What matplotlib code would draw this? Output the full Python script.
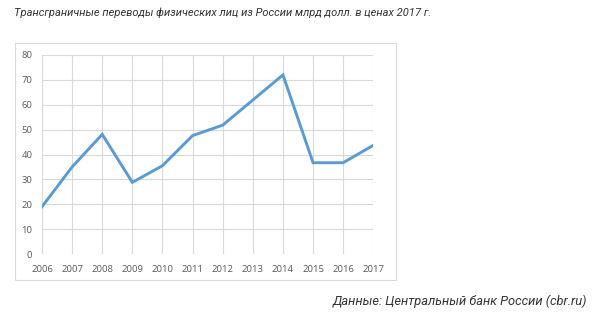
import matplotlib
matplotlib.use("Agg")
import matplotlib.pyplot as plt
from matplotlib.patches import Rectangle

years = [2006, 2007, 2008, 2009, 2010, 2011, 2012, 2013, 2014, 2015, 2016, 2017]
values = [19.0, 35.0, 48.1, 28.8, 35.5, 47.6, 51.8, 61.9, 72.0, 36.7, 36.7, 43.7]
yticks = [0, 10, 20, 30, 40, 50, 60, 70, 80]

title = "Трансграничные переводы физических лиц из России млрд долл. в ценах 2017 г."
source = "Данные: Центральный банк России (cbr.ru)"

W, H = 610, 322
fig = plt.figure(figsize=(W / 100, H / 100), dpi=100)
fig.patch.set_facecolor("white")

# chart box border
fig.add_artist(Rectangle((15 / W, 1 - 280 / H), (396 - 15) / W, (280 - 43) / H,
                         transform=fig.transFigure, fill=False,
                         edgecolor="#d9d9d9", linewidth=0.8))

ax = fig.add_axes([42 / W, 1 - 254 / H, (373.3 - 42) / W, (254 - 55) / H])
ax.plot(years, values, color="#5b9bd5", linewidth=2.1, solid_joinstyle="miter")
ax.set_xlim(years[0], years[-1])
ax.set_ylim(0, 80)
ax.set_xticks(years)
ax.set_xticklabels([str(y) for y in years])
ax.set_yticks(yticks)
ax.grid(True, color="#d9d9d9", linewidth=0.8)
ax.set_axisbelow(True)
for s in ax.spines.values():
    s.set_visible(False)
ax.tick_params(axis="x", length=0, labelsize=6.8, colors="#595959", pad=8)
ax.tick_params(axis="y", length=0, labelsize=6.8, colors="#595959", pad=7)
for lbl in ax.get_xticklabels() + ax.get_yticklabels():
    lbl.set_fontfamily("Open Sans")

fig.text(14 / W, 1 - 13 / H, title, fontsize=8.0, style="italic", color="#333333",
         family="Roboto", va="center", ha="left")
fig.text(587 / W, 1 - 301 / H, source, fontsize=9.3, style="italic", color="#333333",
         family="Roboto", va="center", ha="right")

fig.savefig("out.png", dpi=100)
